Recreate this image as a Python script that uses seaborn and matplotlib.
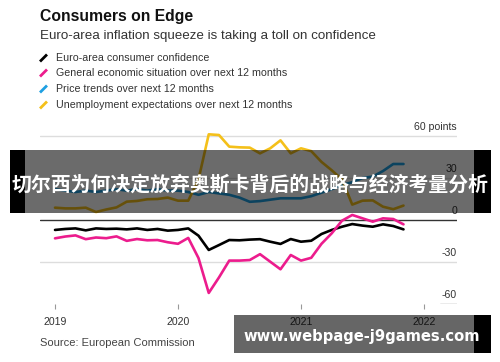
import matplotlib
matplotlib.use("Agg")
import matplotlib.pyplot as plt
import seaborn as sns
import pandas as pd
from matplotlib.patches import Rectangle
from matplotlib.lines import Line2D

# ---- data (monthly, Jan 2019 .. Nov 2021) ----
months = list(range(35))
confidence = [-7.1, -6.4, -6.0, -7.4, -6.0, -6.4, -6.2, -6.7, -6.0, -7.1, -6.4, -7.6,
              -7.1, -6.0, -11.2, -21.4, -17.9, -14.3, -14.5, -14.0, -13.7, -15.5, -17.1, -13.6,
              -15.5, -14.8, -10.0, -7.1, -4.8, -2.9, -4.0, -4.8, -3.1, -4.3, -6.7]
general = [-13.1, -11.8, -11.0, -13.7, -12.5, -13.0, -11.7, -14.9, -13.6, -14.5, -14.3, -15.9,
           -17.0, -12.8, -27.2, -52.1, -41.0, -29.0, -29.0, -28.6, -24.4, -29.8, -35.2, -25.0,
           -29.0, -27.0, -17.0, -9.5, -0.5, 3.6, 1.2, -1.2, 1.2, 0.7, -3.1]
prices = [22, 21, 20, 21, 20, 21, 22, 21, 22, 21, 22, 21,
          21, 20, 18, 20, 19, 18, 16, 13, 13.5, 14.5, 15.5, 15.5,
          15.5, 17, 19.5, 22, 25, 27, 30, 31, 35, 40, 40]
unemployment = [8.8, 8.3, 8.3, 8.8, 5.7, 7.5, 9.0, 13.1, 13.6, 14.8, 15.0, 16.0,
                13.8, 13.8, 29.0, 61.2, 60.7, 52.4, 51.9, 51.7, 47.6, 51.2, 56.9, 47.6,
                51.2, 49.2, 41.5, 35.5, 29.0, 11.0, 13.8, 14.0, 9.5, 7.7, 10.3]

series_names = ["Euro-area consumer confidence",
                "General economic situation over next 12 months",
                "Price trends over next 12 months",
                "Unemployment expectations over next 12 months"]
series_colors = ["#000000", "#ec1c8d", "#1ea0e2", "#f4c01a"]
year_ticks = [0, 12, 24, 36]
year_labels = ["2019", "2020", "2021", "2022"]
y_grid = [60, 30, 0, -30]
y_labels = ["60 points", "30", "0", "-30", "-60"]
y_label_vals = [60, 30, 0, -30, -60]

title = "Consumers on Edge"
subtitle = "Euro-area inflation squeeze is taking a toll on confidence"
source = "Source: European Commission"
banner = "切尔西为何决定放弃奥斯卡背后的战略与经济考量分析"
watermark = "www.webpage-j9games.com"

df = pd.DataFrame({
    "month": months * 4,
    "value": confidence + general + prices + unemployment,
    "series": sum([[n] * len(months) for n in series_names], []),
})

W, H = 500, 362
sns.set_theme(style="white")
plt.rcParams["font.family"] = ["Liberation Sans", "DejaVu Sans"]

fig = plt.figure(figsize=(W / 100, H / 100), dpi=100)
fig.patch.set_facecolor("white")

def fx(px):
    return px / W

def fy(py):
    return 1 - py / H

# axes box in pixels; value 60 sits at px 136, -60 at px 304 (1.4 px per point)
ax_l, ax_r, ax_t, ax_b = 40, 457, 122, 304
ppp = 1.4
ax = fig.add_axes([fx(ax_l), fy(ax_b), fx(ax_r) - fx(ax_l), fy(ax_t) - fy(ax_b)])
ax.set_facecolor("white")
ax.patch.set_alpha(0)

px_per_month = 10.25
x0_px = 55
ax.set_xlim((ax_l - x0_px) / px_per_month, (ax_r - x0_px) / px_per_month)
ax.set_ylim(-60, -60 + (ax_b - ax_t) / ppp)

for v in y_grid:
    if v == 0:
        ax.axhline(v, color="#333333", lw=1.0, zorder=1)
    else:
        ax.axhline(v, color="#dddddd", lw=1.0, zorder=1)
ax.axhline(-60, xmin=(440 - ax_l) / (ax_r - ax_l), xmax=1, color="#999999", lw=1.0, zorder=1)

sns.lineplot(data=df, x="month", y="value", hue="series", hue_order=series_names,
             palette=series_colors, linewidth=1.9, legend=False, ax=ax, zorder=3)

for lab, v in zip(y_labels, y_label_vals):
    ax.text(1.0, v + 2.5, lab, transform=ax.get_yaxis_transform(), ha="right", va="bottom",
            fontsize=7.6, color="#333333")

for s in ax.spines.values():
    s.set_visible(False)
ax.set_yticks([])
ax.set_xticks(year_ticks)
ax.set_xticklabels(year_labels)
ax.tick_params(axis="x", bottom=True, length=3.5, width=0.8, color="#999999",
               pad=6, labelsize=7.6, labelcolor="#333333")
ax.set_xlabel("")
ax.set_ylabel("")

# header text
fig.text(fx(40), fy(17), title, fontsize=11.3, fontweight="bold", color="#111111", va="center", ha="left")
fig.text(fx(40), fy(36), subtitle, fontsize=9.6, color="#333333", va="center", ha="left")
leg_y = [58, 73, 89, 105]
for name, col, yy in zip(series_names, series_colors, leg_y):
    fig.add_artist(Line2D([fx(40), fx(47)], [fy(yy + 3.5), fy(yy - 3.5)], color=col, lw=2.0,
                          solid_capstyle="butt"))
    fig.text(fx(56), fy(yy), name, fontsize=7.7, color="#333333", va="center", ha="left")
fig.text(fx(40), fy(343), source, fontsize=8.0, color="#444444", va="center", ha="left")

# overlay layer (banner + watermark)
ov = fig.add_axes([0, 0, 1, 1], zorder=10)
ov.set_xlim(0, W)
ov.set_ylim(H, 0)
ov.axis("off")
ov.patch.set_alpha(0)

ov.add_patch(Rectangle((10, 150), 15, 63, facecolor="black", edgecolor="none"))
ov.add_patch(Rectangle((474, 150), 17, 63, facecolor="black", edgecolor="none"))
ov.add_patch(Rectangle((25, 150), 449, 63, facecolor="black", alpha=0.58, edgecolor="none"))
ov.text(250, 184, banner, fontsize=14.3, fontweight="bold", color="white", ha="center", va="center",
        family=["Noto Sans CJK SC", "DejaVu Sans"])

ov.add_patch(Rectangle((234, 315), 240, 38, facecolor="black", alpha=0.6, edgecolor="none"))
ov.add_patch(Rectangle((474, 315), 17, 38, facecolor="black", edgecolor="none"))
ov.text(361.5, 337, watermark, fontsize=10.65, fontweight="bold", color="white", ha="center", va="center",
        family=["DejaVu Sans"])

fig.savefig("out.png", dpi=100)
